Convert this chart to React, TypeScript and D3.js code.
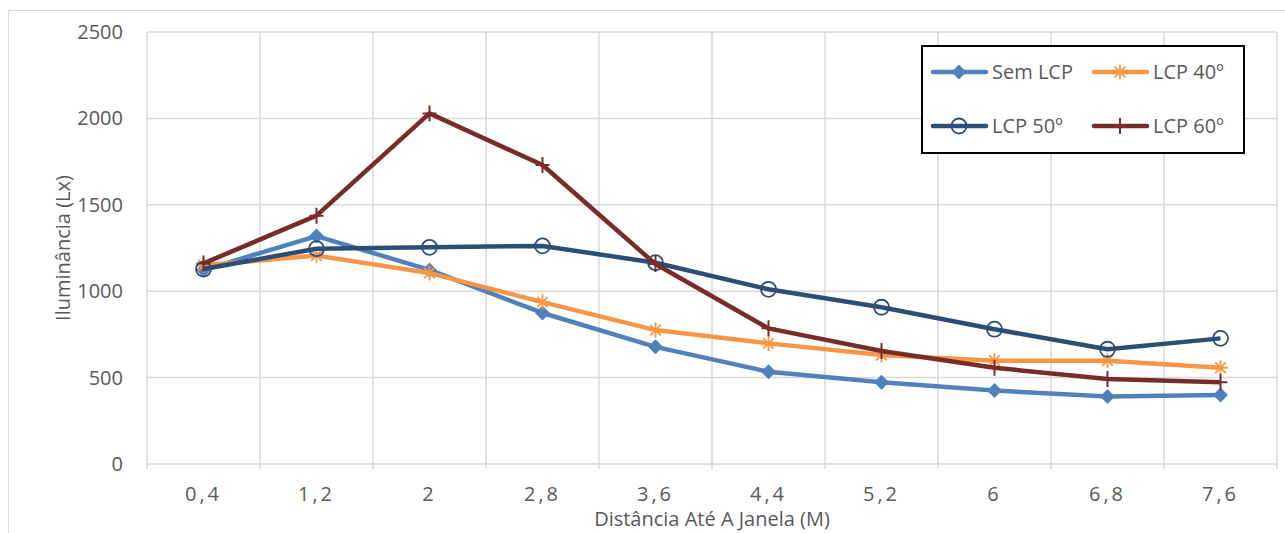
import React, { useRef, useEffect } from 'react';
import * as d3 from 'd3';

const categories = ['0,4', '1,2', '2', '2,8', '3,6', '4,4', '5,2', '6', '6,8', '7,6'];
const semLcp = [1123, 1319, 1123, 874, 678, 534, 473, 425, 390, 399];
const lcp40 = [1150, 1206, 1105, 937, 775, 698, 631, 598, 598, 557];
const lcp50 = [1128, 1246, 1254, 1262, 1165, 1011, 907, 780, 664, 727];
const lcp60 = [1161, 1437, 2029, 1730, 1157, 785, 654, 557, 492, 473];
const yTicks = [0, 500, 1000, 1500, 2000, 2500];

const series = [
  { name: 'Sem LCP', values: semLcp, color: '#4F81BD', marker: 'diamond' },
  { name: 'LCP 40º', values: lcp40, color: '#F79646', marker: 'star' },
  { name: 'LCP 50º', values: lcp50, color: '#2C4D75', marker: 'circle' },
  { name: 'LCP 60º', values: lcp60, color: '#772C2A', marker: 'plus' },
];

const drawMarker = (g, type, color, x, y) => {
  if (type === 'diamond') {
    g.append('path')
      .attr('d', `M${x},${y - 7.5}L${x + 7.5},${y}L${x},${y + 7.5}L${x - 7.5},${y}Z`)
      .attr('fill', color);
  } else if (type === 'star') {
    const r = 7.5;
    let d = '';
    [0, 45, 90, 135].forEach(a => {
      const rad = (a * Math.PI) / 180;
      d += `M${x - r * Math.cos(rad)},${y - r * Math.sin(rad)}L${x + r * Math.cos(rad)},${y + r * Math.sin(rad)}`;
    });
    g.append('path').attr('d', d).attr('stroke', color).attr('stroke-width', 1.8).attr('fill', 'none');
  } else if (type === 'circle') {
    g.append('circle').attr('cx', x).attr('cy', y).attr('r', 7.5)
      .attr('fill', 'none').attr('stroke', color).attr('stroke-width', 1.8);
  } else {
    g.append('path')
      .attr('d', `M${x - 7},${y}L${x + 7},${y}M${x},${y - 8}L${x},${y + 8}`)
      .attr('stroke', color).attr('stroke-width', 2).attr('fill', 'none');
  }
};

const App = () => {
  const ref = useRef(null);

  useEffect(() => {
    const svg = d3.select(ref.current);
    svg.selectAll('*').remove();

    const left = 147, right = 1277, top = 32, bottom = 464;
    const font = "'Open Sans', sans-serif";
    const textColor = '#595959';

    // outer chart border
    svg.append('rect').attr('x', 8.5).attr('y', 10.5).attr('width', 1300).attr('height', 600)
      .attr('fill', 'white').attr('stroke', '#d9d9d9').attr('stroke-width', 1);

    const x = d3.scaleBand().domain(categories).range([left, right]);
    const y = d3.scaleLinear().domain([0, 2500]).range([bottom, top]);

    const grid = svg.append('g');
    yTicks.forEach(t => {
      grid.append('line').attr('x1', left).attr('x2', right).attr('y1', y(t)).attr('y2', y(t))
        .attr('stroke', '#d9d9d9').attr('stroke-width', 1.5);
    });
    d3.range(categories.length + 1).forEach(i => {
      const xv = left + i * x.step();
      grid.append('line').attr('x1', xv).attr('x2', xv).attr('y1', top).attr('y2', bottom + 5)
        .attr('stroke', '#d9d9d9').attr('stroke-width', 1.5);
    });

    // y tick labels
    svg.append('g').selectAll('text').data(yTicks).join('text')
      .attr('x', 123).attr('y', d => y(d)).attr('dy', '0.35em')
      .attr('text-anchor', 'end').attr('font-family', font).attr('font-size', 20)
      .attr('fill', textColor).text(d => d);

    // x tick labels
    svg.append('g').selectAll('text').data(categories).join('text')
      .attr('x', d => x(d) + x.bandwidth() / 2).attr('y', 494).attr('dy', '0.35em')
      .attr('text-anchor', 'middle').attr('font-family', font).attr('font-size', 20)
      .attr('letter-spacing', 3).attr('fill', textColor).text(d => d);

    svg.append('text').attr('x', 712).attr('y', 519).attr('dy', '0.35em')
      .attr('text-anchor', 'middle').attr('font-family', font).attr('font-size', 20)
      .attr('fill', textColor).text('Distância Até A Janela (M)');

    svg.append('text').attr('transform', 'translate(63,248) rotate(-90)').attr('dy', '0.35em')
      .attr('text-anchor', 'middle').attr('font-family', font).attr('font-size', 20)
      .attr('fill', textColor).text('Iluminância (Lx)');

    const line = d3.line().x((d, i) => x(categories[i]) + x.bandwidth() / 2).y(d => y(d));

    series.forEach(s => {
      const g = svg.append('g');
      g.append('path').datum(s.values).attr('d', line).attr('fill', 'none')
        .attr('stroke', s.color).attr('stroke-width', 4.5).attr('stroke-linejoin', 'round');
      s.values.forEach((v, i) => {
        drawMarker(g, s.marker, s.color, x(categories[i]) + x.bandwidth() / 2, y(v));
      });
    });

    // legend
    const lg = svg.append('g');
    lg.append('rect').attr('x', 922).attr('y', 46).attr('width', 322).attr('height', 107)
      .attr('fill', 'white').attr('stroke', 'black').attr('stroke-width', 2);
    series.forEach((s, i) => {
      const lx = i % 2 === 0 ? 933 : 1094;
      const ly = i < 2 ? 72 : 126;
      lg.append('line').attr('x1', lx).attr('x2', lx + 53).attr('y1', ly).attr('y2', ly)
        .attr('stroke', s.color).attr('stroke-width', 4.5).attr('stroke-linecap', 'round');
      drawMarker(lg, s.marker, s.color, lx + 26, ly);
      lg.append('text').attr('x', lx + 59).attr('y', ly).attr('dy', '0.35em')
        .attr('font-family', font).attr('font-size', 20).attr('fill', textColor).text(s.name);
    });
  }, []);

  return <svg ref={ref} width="1285" height="533" style={{ position: 'absolute', left: 0, top: 0 }}></svg>;
};

export default App;
